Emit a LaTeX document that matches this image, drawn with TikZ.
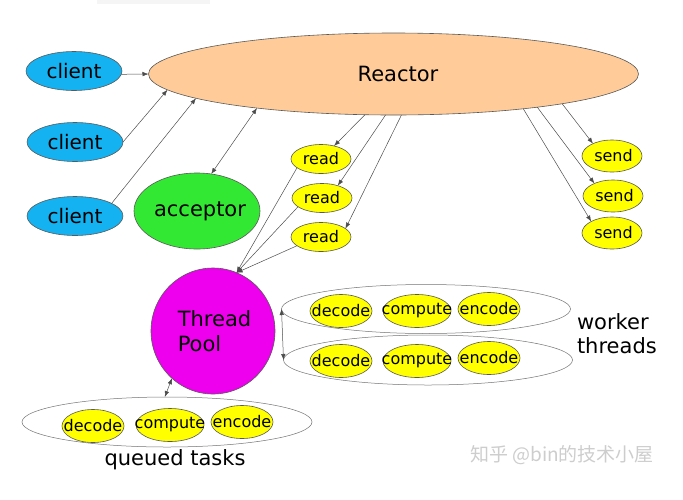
\documentclass[tikz,border=0pt]{standalone}
\usepackage{fontspec}
\setmainfont{DejaVu Sans}
\newfontfamily\cjkfont{Noto Sans CJK SC}
\usetikzlibrary{shapes.geometric,arrows.meta}
\definecolor{cli}{RGB}{20,178,240}
\definecolor{rea}{RGB}{255,204,153}
\definecolor{acc}{RGB}{51,232,51}
\definecolor{poolc}{RGB}{238,0,238}
\definecolor{yel}{RGB}{255,255,0}
\definecolor{wm}{RGB}{205,205,205}
\newcommand{\zc}[1]{\makebox[0pt]{#1}}
\begin{document}
\begin{tikzpicture}[x=1pt,y=-1pt,
 el/.style={ellipse, draw=black!65, line width=0.6pt, inner sep=0pt, outer sep=0pt},
 clientnode/.style={el, fill=cli, minimum width=96pt, minimum height=39pt, font=\fontsize{20}{24}\selectfont},
 small/.style={el, fill=yel, font=\fontsize{16}{19}\selectfont},
 readnode/.style={small, minimum width=60pt, minimum height=29pt},
 sendnode/.style={small, minimum width=60pt, minimum height=32pt},
 tasknode/.style={small, minimum width=62pt, minimum height=33pt},
 compnode/.style={small, minimum width=68pt, minimum height=33pt},
 group/.style={el, draw=black!55, fill=white, line width=0.5pt, minimum width=289pt, minimum height=49pt},
 arr/.style={draw=black!70, line width=0.5pt, -{Latex[length=6pt,width=4.5pt]}},
 darr/.style={draw=black!70, line width=0.5pt, {Latex[length=6pt,width=4.5pt]}-{Latex[length=6pt,width=4.5pt]}},
 big/.style={font=\fontsize{21}{24}\selectfont},
 plain/.style={inner sep=0pt, outer sep=0pt}]
\useasboundingbox (0,0) rectangle (683,499);
\fill[gray!8] (97,0) rectangle (210,4);

% Reactor
\node[el, fill=rea, minimum width=490pt, minimum height=82pt, big] (reactor) at (393.5,74) {\zc{\hspace*{9pt}Reactor}};

% clients
\node[clientnode] (client1) at (74,71) {\zc{client}};
\node[clientnode] (client2) at (75,142) {\zc{client}};
\node[clientnode] (client3) at (75,216) {\zc{client}};

% acceptor
\node[el, fill=acc, minimum width=126pt, minimum height=76pt, big] (acceptor) at (197,211) {\zc{\hspace*{6pt}acceptor}};

% reads
\node[readnode] (read1) at (321,159) {\zc{read}};
\node[readnode] (read2) at (322,198) {\zc{read}};
\node[readnode] (read3) at (321,237) {\zc{read}};

% sends
\node[sendnode] (send1) at (612,156) {\zc{\hspace*{3pt}send}};
\node[sendnode] (send2) at (613,196) {\zc{\hspace*{3pt}send}};
\node[sendnode] (send3) at (612,233) {\zc{\hspace*{3pt}send}};

% thread pool
\node[el, fill=poolc, minimum width=124pt, minimum height=126pt, big] (pool) at (213,331)
  {\zc{\hspace*{3pt}\raisebox{-8pt}[0pt][0pt]{\begin{tabular}{@{}l@{}}Thread\\[1pt]Pool\end{tabular}}}};

% worker groups
\node[group] (w1) at (426,309) {};
\node[group, minimum height=50pt] (w2) at (428,360) {};
\node[tasknode] (w1d) at (341,311) {\zc{decode}};
\node[compnode] (w1c) at (417,311) {\zc{compute}};
\node[tasknode] (w1e) at (489,309) {\zc{encode}};
\node[tasknode] (w2d) at (341,361) {\zc{decode}};
\node[compnode] (w2c) at (417,361) {\zc{compute}};
\node[tasknode] (w2e) at (489,358) {\zc{encode}};
\node[plain, big, align=left, anchor=west] (wlabel) at (577,334) {worker\\threads};

% queued
\node[group, minimum width=290pt, minimum height=50pt] (queue) at (167,422) {};
\node[tasknode] (qd) at (93,426) {\zc{decode}};
\node[compnode] (qc) at (170,425) {\zc{compute}};
\node[tasknode] (qe) at (242,422) {\zc{encode}};
\node[plain, font=\fontsize{21}{24}\selectfont] (qlabel) at (175,460) {queued tasks};

% watermark
\node[plain, text=wm, font=\cjkfont\fontsize{19}{22}\selectfont] (wmark) at (562,455) {知乎 @bin的技术小屋};

% connectors
\draw[arr] (client1.-4) -- (reactor.180);
\draw[arr] (client2.east) -- (reactor.184.8);
\draw[arr] (client3.19) -- (reactor.187);
\draw[darr] (acceptor.69) -- (reactor.194.8);
\draw[arr] (reactor.235.3) -- (read1.45);
\draw[arr] (reactor.259.8) -- (read2.38.7);
\draw[arr] (reactor.281.6) -- (read3.19);
\draw[arr] (read1.200) -- (pool.68);
\draw[arr] (read2.200) -- (pool.68);
\draw[arr] (read3.200) -- (pool.68);
\draw[arr] (reactor.350.6) -- (send1.147.5);
\draw[arr] (reactor.347.7) -- (send2.146);
\draw[arr] (reactor.345.6) -- (send3.151.5);
\draw[darr] (w1.west) -- (w2.west);
\draw[darr] (queue.95) -- (pool.229);
\end{tikzpicture}
\end{document}
